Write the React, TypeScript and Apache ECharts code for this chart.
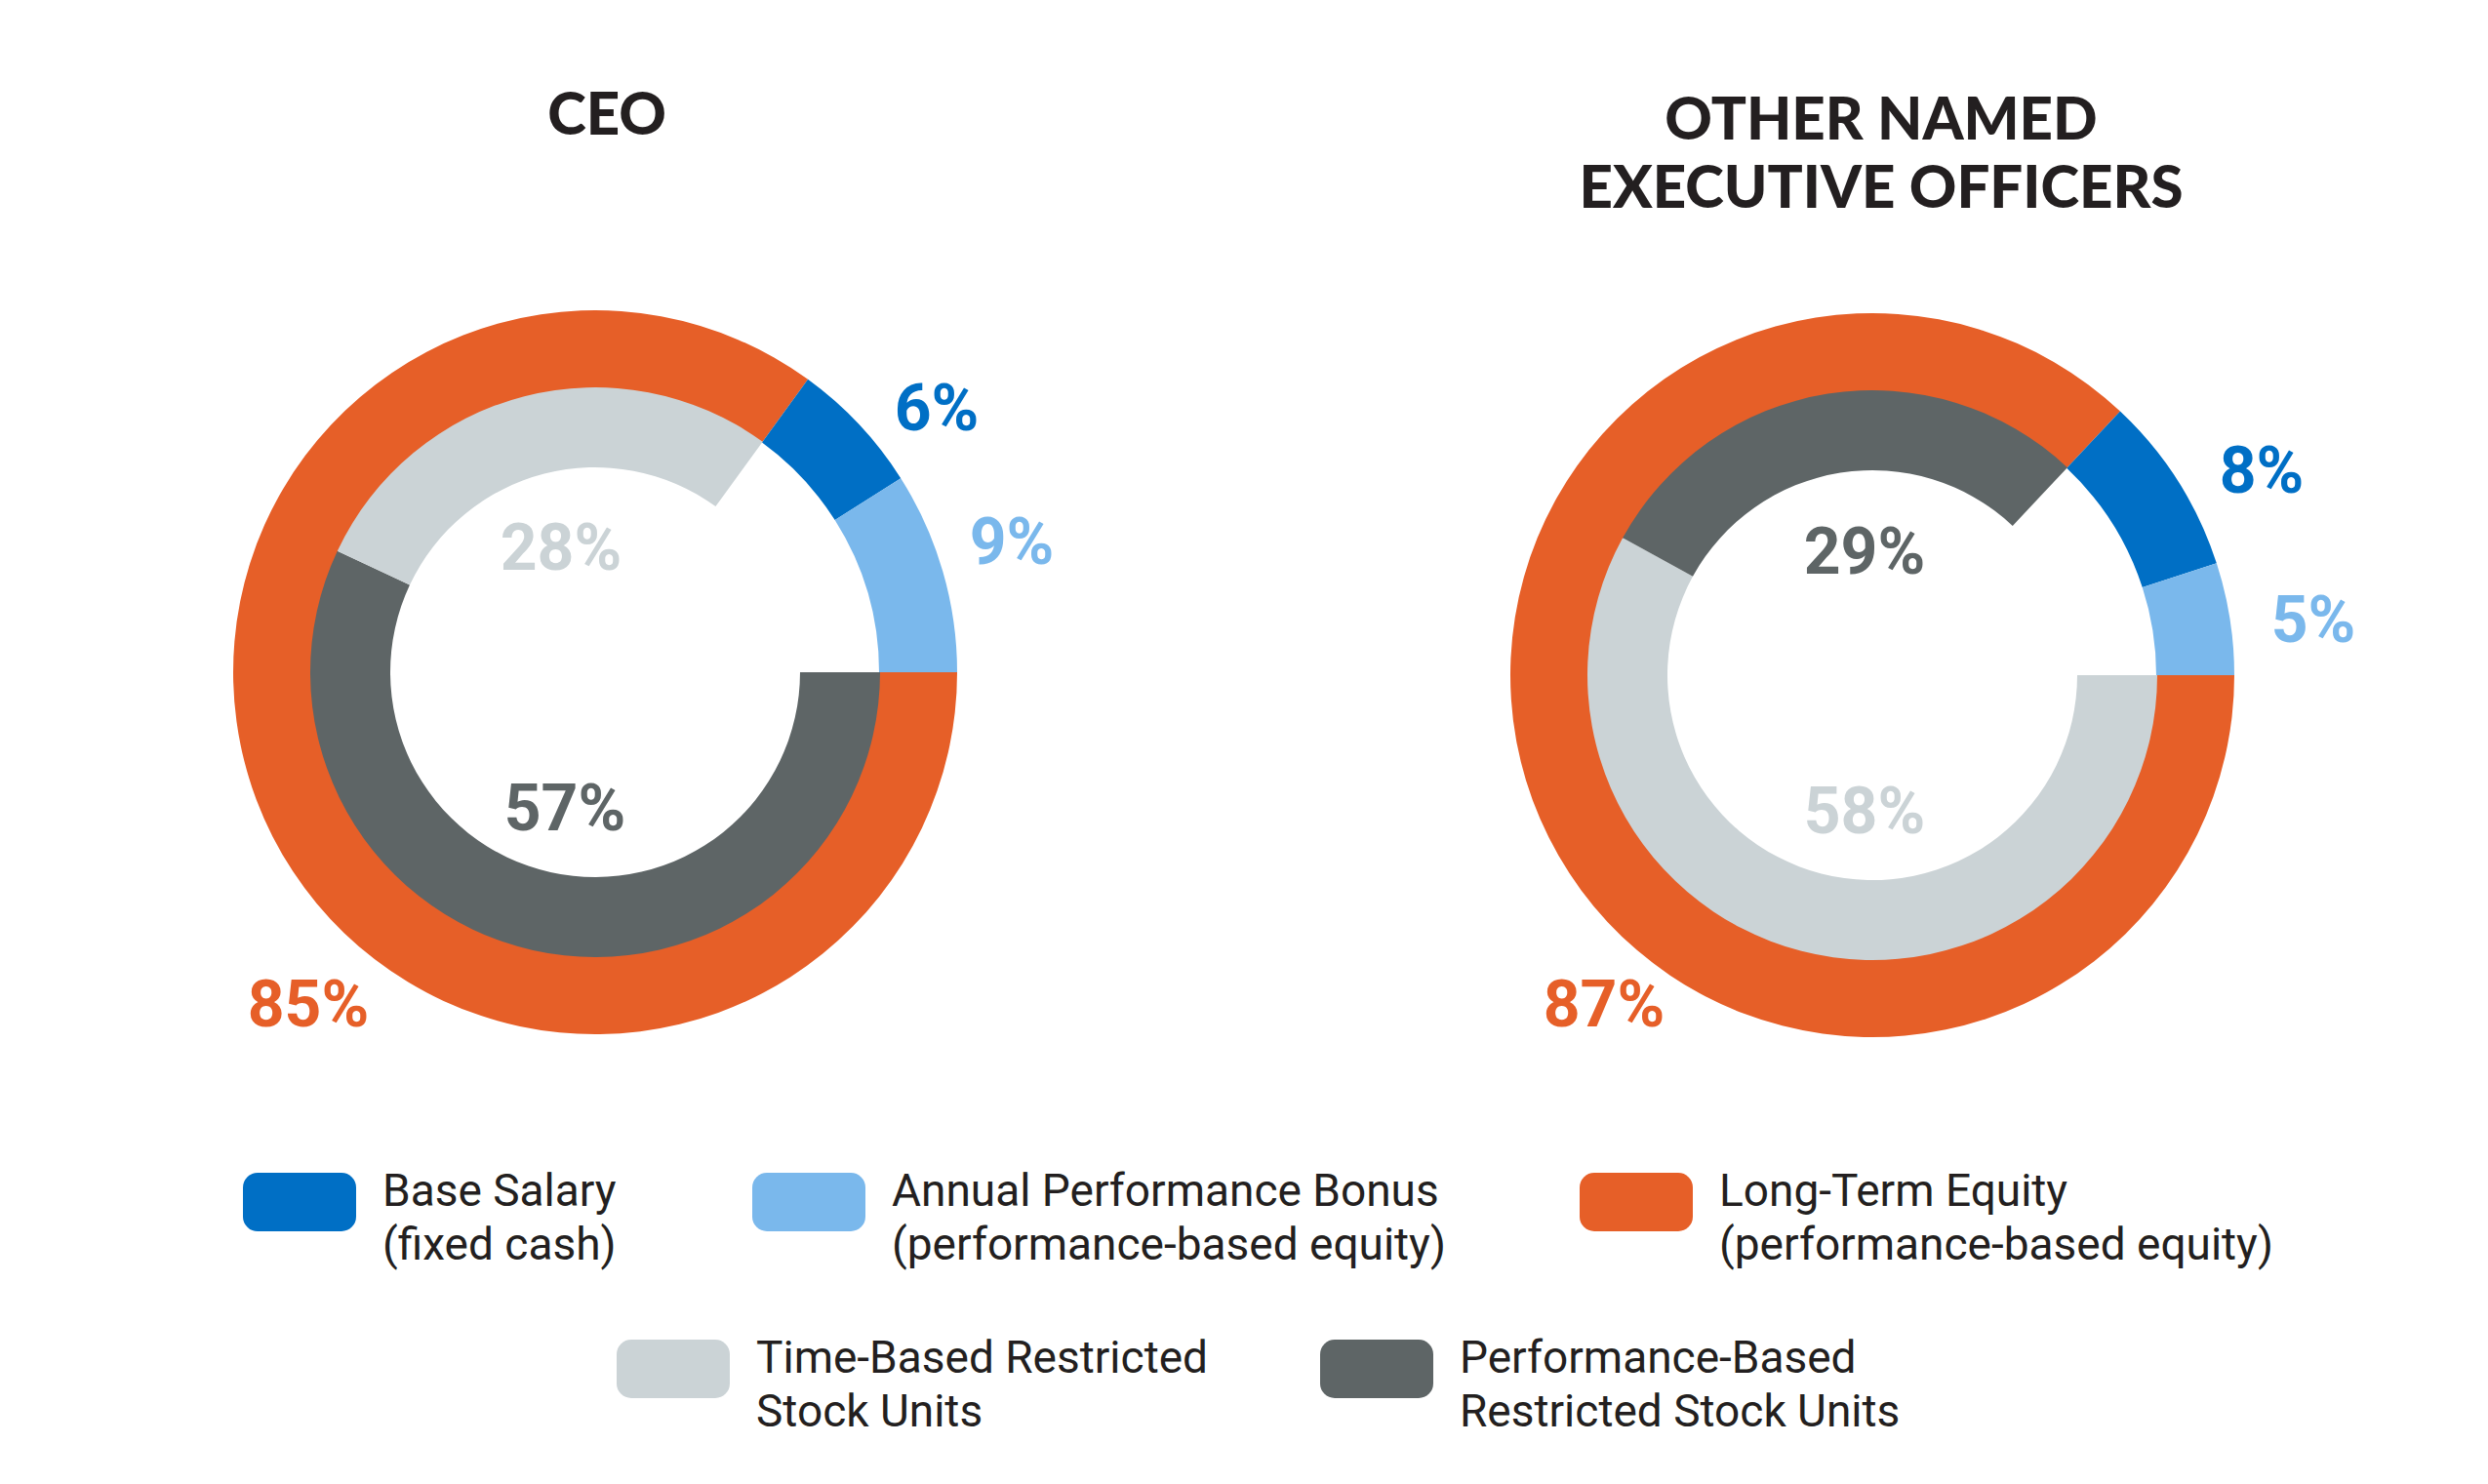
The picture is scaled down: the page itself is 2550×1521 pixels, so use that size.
import React, { useEffect, useRef } from "react";
import * as echarts from "echarts";

// ---------- data ----------
const LTE = "Long-Term Equity\n(performance-based equity)";
const BASE = "Base Salary\n(fixed cash)";
const BONUS = "Annual Performance Bonus\n(performance-based equity)";
const TBRSU = "Time-Based Restricted\nStock Units";
const PSU = "Performance-Based\nRestricted Stock Units";

const titles = ["CEO", "OTHER NAMED\nEXECUTIVE OFFICERS"];

// outer ring, clockwise from 3 o'clock
const ceoOuterNames = [LTE, BASE, BONUS];
const ceoOuterValues = [85, 6, 9];
const neoOuterNames = [LTE, BASE, BONUS];
const neoOuterValues = [87, 8, 5];

// inner ring (breakdown of long-term equity), clockwise from 3 o'clock
const ceoInnerNames = [PSU, TBRSU];
const ceoInnerValues = [57, 28];
const neoInnerNames = [TBRSU, PSU];
const neoInnerValues = [58, 29];

const legendRow1 = [BASE, BONUS, LTE];
const legendRow2 = [TBRSU, PSU];

// ---------- style ----------
const COLORS: Record<string, string> = {
  [LTE]: "#E65F28",
  [BASE]: "#006FC5",
  [BONUS]: "#7AB8EC",
  [TBRSU]: "#CBD3D6",
  [PSU]: "#5E6566",
};
const TEXT = "#231F20";
const W = 2550;
const H = 1521;

const pies = [
  { center: [610, 689], outer: [ceoOuterNames, ceoOuterValues], inner: [ceoInnerNames, ceoInnerValues] },
  { center: [1919, 692], outer: [neoOuterNames, neoOuterValues], inner: [neoInnerNames, neoInnerValues] },
] as const;

// label positions (layout), matched to the order of [outer..., inner...]
const labelPos = [
  { outer: [[316, 1029], [960, 418], [1037, 555]], inner: [[579, 828], [575, 561]] },
  { outer: [[1644, 1029], [2318, 482], [2371, 635]], inner: [[1911, 831], [1911, 565]] },
];

function buildOption() {
  const series: any[] = [];
  const graphic: any[] = [];

  pies.forEach((p, pi) => {
    const [oNames, oVals] = p.outer as any;
    const [iNames, iVals] = p.inner as any;
    const innerSum = (iVals as number[]).reduce((a, b) => a + b, 0);
    const outerSum = (oVals as number[]).reduce((a, b) => a + b, 0);
    series.push({
      type: "pie",
      center: p.center,
      radius: [291, 371],
      startAngle: 0,
      clockwise: true,
      silent: true,
      label: { show: false },
      labelLine: { show: false },
      emphasis: { disabled: true },
      data: (oNames as string[]).map((n, i) => ({ name: n, value: oVals[i], itemStyle: { color: COLORS[n] } })),
    });
    series.push({
      type: "pie",
      center: p.center,
      radius: [210, 292],
      startAngle: 0,
      clockwise: true,
      silent: true,
      label: { show: false },
      labelLine: { show: false },
      emphasis: { disabled: true },
      data: [
        ...(iNames as string[]).map((n, i) => ({ name: n, value: iVals[i], itemStyle: { color: COLORS[n] } })),
        { name: "rest", value: outerSum - innerSum, itemStyle: { color: "rgba(0,0,0,0)" } },
      ],
    });
    const addLabel = (name: string, v: number, pos: number[]) => {
      graphic.push({
        type: "text",
        x: pos[0],
        y: pos[1],
        silent: true,
        style: {
          text: `${v}%`,
          fill: COLORS[name],
          fontFamily: "Roboto",
          fontWeight: 700,
          fontSize: 66,
          align: "center",
          verticalAlign: "middle",
          textAlign: "center",
          textVerticalAlign: "middle",
        },
      });
    };
    (oNames as string[]).forEach((n, i) => addLabel(n, oVals[i], labelPos[pi].outer[i]));
    (iNames as string[]).forEach((n, i) => addLabel(n, iVals[i], labelPos[pi].inner[i]));
  });

  const titlePos = [[622, 115], [1928, 155]];
  titles.forEach((t, i) => {
    graphic.push({
      type: "text",
      x: titlePos[i][0],
      y: titlePos[i][1],
      silent: true,
      style: {
        text: t,
        fill: TEXT,
        fontFamily: "Lato",
        fontWeight: 900,
        fontSize: 60,
        lineHeight: 70,
        align: "center",
        verticalAlign: "middle",
        textAlign: "center",
        textVerticalAlign: "middle",
      },
    });
  });

  const legendBase = {
    orient: "horizontal",
    padding: 0,
    icon: "roundRect",
    itemWidth: 116,
    itemHeight: 60,
    selectedMode: false,
    formatter: (name: string) => `{s| }\n${name}`,
    textStyle: {
      color: TEXT,
      fontFamily: "Roboto",
      fontSize: 46,
      lineHeight: 55,
      padding: [0, 0, 0, 22],
      rich: { s: { fontSize: 10, lineHeight: 30, height: 30 } },
    },
  };
  const row1Left = [249, 771, 1619];
  const row2Left = [632, 1353];
  const legend: any[] = [];
  legendRow1.forEach((n, i) => legend.push({ ...legendBase, left: row1Left[i], top: 1162, data: [n] }));
  legendRow2.forEach((n, i) => legend.push({ ...legendBase, left: row2Left[i], top: 1333, data: [n] }));

  return {
    animation: false,
    backgroundColor: "#ffffff",
    legend,
    series,
    graphic,
  };
}

export default function App() {
  const ref = useRef<HTMLDivElement>(null);
  useEffect(() => {
    document.body.style.margin = "0";
    const chart = echarts.init(ref.current!, undefined, { renderer: "svg", width: W, height: H });
    chart.setOption(buildOption() as any);
    return () => chart.dispose();
  }, []);
  return <div ref={ref} style={{ width: W, height: H, background: "#fff" }} />;
}
